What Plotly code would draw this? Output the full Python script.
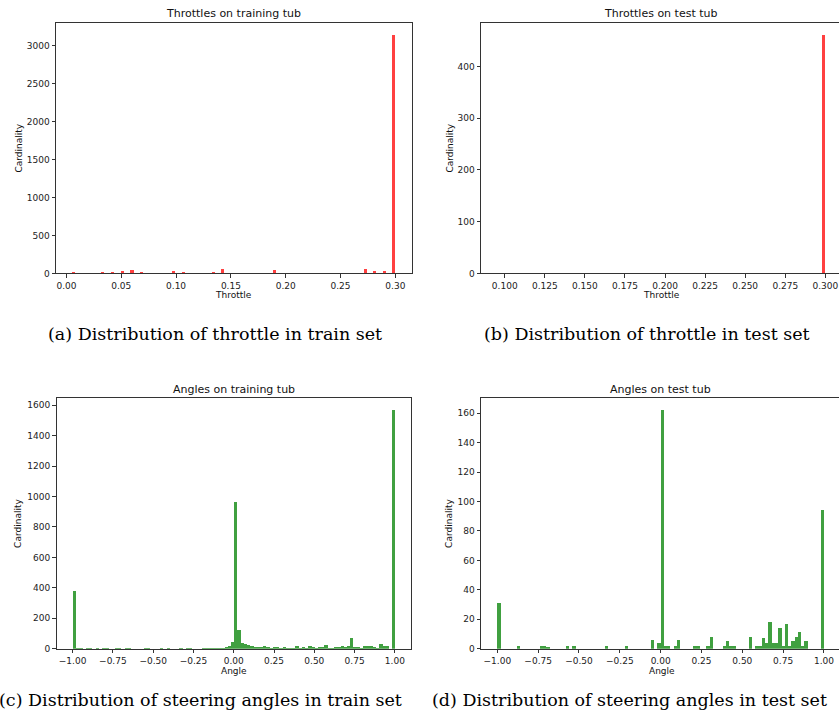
import numpy as np
import plotly.graph_objects as go

# ---------------- data ----------------
# (a) throttle, training tub: bin centres and counts (bin width ~0.00295)
throttle_train_x = [0.0068, 0.0153, 0.0241, 0.0329, 0.0418, 0.0509, 0.0598, 0.0686,
                    0.0774, 0.0887, 0.0978, 0.1070, 0.1161, 0.1250, 0.1338, 0.1426,
                    0.1515, 0.1603, 0.1718, 0.1807, 0.1896, 0.1987, 0.2075, 0.2161,
                    0.2337, 0.2636, 0.2724, 0.2810, 0.2898, 0.2985]
throttle_train_counts = [30, 17, 17, 22, 22, 39, 48, 22, 17, 17, 39, 22, 17, 17, 30, 70,
                         17, 17, 17, 17, 52, 17, 17, 17, 17, 17, 65, 35, 35, 3143]
throttle_train_binwidth = 0.00295

# (b) throttle, test tub
throttle_test_x = [0.0964, 0.2990]
throttle_test_counts = [2, 462]
throttle_test_binwidth = 0.00205

# (c) steering angle, training tub: 100 bins over [-1, 1]
angle_train_counts = [
    378, 3, 2, 0, 3, 3, 0, 6, 0, 3,
    3, 0, 0, 3, 3, 0, 3, 3, 0, 0,
    0, 0, 3, 3, 0, 0, 0, 6, 0, 3,
    0, 0, 0, 3, 0, 3, 3, 0, 0, 0,
    4, 6, 5, 3, 5, 5, 6, 10, 20, 40,
    960, 124, 39, 33, 26, 17, 13, 12, 8, 20,
    8, 6, 12, 12, 6, 10, 5, 6, 6, 16,
    6, 10, 4, 20, 8, 6, 8, 12, 26, 6,
    4, 12, 10, 15, 12, 14, 72, 8, 12, 6,
    20, 18, 15, 8, 6, 30, 18, 18, 0, 1567]

# (d) steering angle, test tub: 100 bins over [-1, 1]
angle_test_counts = [
    31, 0, 0, 0, 0, 0, 2, 0, 0, 0,
    0, 0, 0, 2, 2, 1, 0, 0, 0, 0,
    0, 2, 0, 2, 0, 0, 0, 0, 0, 0,
    0, 0, 0, 2, 0, 0, 0, 0, 0, 2,
    0, 0, 0, 0, 0, 0, 0, 6, 0, 4,
    162, 2, 2, 0, 2, 6, 0, 0, 0, 0,
    2, 2, 0, 0, 2, 8, 0, 0, 0, 2,
    5, 2, 2, 0, 0, 0, 0, 8, 0, 2,
    2, 7, 4, 18, 4, 4, 14, 2, 17, 2,
    5, 8, 11, 2, 5, 0, 0, 0, 0, 94]

angle_edges = np.linspace(-1.0, 1.0, 101)
angle_centers = (angle_edges[:-1] + angle_edges[1:]) / 2
angle_binwidth = 0.02

titles = ["Throttles on training tub", "Throttles on test tub",
          "Angles on training tub", "Angles on test tub"]
captions = ["(a) Distribution of throttle in train set",
            "(b) Distribution of throttle in test set",
            "(c) Distribution of steering angles in train set",
            "(d) Distribution of steering angles in test set"]

RED = "rgba(255,0,0,0.75)"
GREEN = "rgba(0,128,0,0.75)"

# ---------------- figure ----------------
W, H = 839, 727
fig = go.Figure()

def px_x(p):
    return p / W

def px_y(p):
    return 1 - p / H

fig.add_trace(go.Bar(x=throttle_train_x, y=throttle_train_counts, width=throttle_train_binwidth,
                     marker=dict(color=RED, line=dict(width=0)), xaxis="x", yaxis="y"))
fig.add_trace(go.Bar(x=throttle_test_x, y=throttle_test_counts, width=throttle_test_binwidth,
                     marker=dict(color=RED, line=dict(width=0)), xaxis="x2", yaxis="y2"))
fig.add_trace(go.Bar(x=angle_centers, y=angle_train_counts, width=angle_binwidth,
                     marker=dict(color=GREEN, line=dict(width=0)), xaxis="x3", yaxis="y3"))
fig.add_trace(go.Bar(x=angle_centers, y=angle_test_counts, width=angle_binwidth,
                     marker=dict(color=GREEN, line=dict(width=0)), xaxis="x4", yaxis="y4"))

LINE = "#333333"
TICKFONT = dict(family="DejaVu Sans", size=9, color="#222222")

def xax(dom, rng, tickvals, fmt, mirror=True):
    return dict(domain=[px_x(dom[0]), px_x(dom[1])], range=rng, tickmode="array",
                tickvals=tickvals, tickformat=fmt, showline=True, mirror=mirror,
                linecolor=LINE, linewidth=1, ticks="outside", ticklen=3.5, tickwidth=0.8,
                tickcolor=LINE, showgrid=False, zeroline=False, tickfont=TICKFONT,
                fixedrange=True)

def yax(dom, rng, tickvals, anchor, mirror=True):
    return dict(domain=[px_y(dom[1]), px_y(dom[0])], range=rng, tickmode="array",
                tickvals=tickvals, showline=True, mirror=mirror, anchor=anchor,
                linecolor=LINE, linewidth=1, ticks="outside", ticklen=3.5, tickwidth=0.8,
                tickcolor=LINE, showgrid=False, zeroline=False, tickfont=TICKFONT,
                fixedrange=True)

# pixel boxes of the four axes
A = (56, 411.5, 22.7, 275.3)
B = (481, 839, 22.7, 275.3)
C = (56.5, 411, 401, 653.3)
D = (481, 839, 401, 653.3)

fig.update_layout(
    width=W, height=H, margin=dict(l=0, r=0, t=0, b=0),
    paper_bgcolor="white", plot_bgcolor="white", showlegend=False, bargap=0,
    xaxis=xax(A[:2], [-0.0095, 0.3147], [0, 0.05, 0.10, 0.15, 0.20, 0.25, 0.30], ".2f"),
    yaxis=yax(A[2:], [0, 3300], [0, 500, 1000, 1500, 2000, 2500, 3000], "x"),
    xaxis2=dict(xax(B[:2], [0.0852, 0.3085],
                    [0.1, 0.125, 0.15, 0.175, 0.2, 0.225, 0.25, 0.275, 0.3], ".3f"), anchor="y2"),
    yaxis2=yax(B[2:], [0, 485], [0, 100, 200, 300, 400], "x2", mirror=False),
    xaxis3=dict(xax(C[:2], [-1.1, 1.1], [-1, -0.75, -0.5, -0.25, 0, 0.25, 0.5, 0.75, 1], ".2f"),
                anchor="y3"),
    yaxis3=yax(C[2:], [0, 1645], [0, 200, 400, 600, 800, 1000, 1200, 1400, 1600], "x3"),
    xaxis4=dict(xax(D[:2], [-1.1, 1.092], [-1, -0.75, -0.5, -0.25, 0, 0.25, 0.5, 0.75, 1], ".2f"),
                anchor="y4"),
    yaxis4=yax(D[2:], [0, 170.1], [0, 20, 40, 60, 80, 100, 120, 140, 160], "x4", mirror=False),
)
fig.layout.xaxis.anchor = "y"

annotations = []
def ann(text, x, y, size, family="DejaVu Sans", angle=0, color="#111111"):
    annotations.append(dict(text=text, x=px_x(x), y=px_y(y), xref="paper", yref="paper",
                            xanchor="center", yanchor="middle", showarrow=False,
                            textangle=angle, font=dict(family=family, size=size, color=color)))

# titles
ann(titles[0], 233.8, 14, 11)
ann(titles[1], 660.5, 14, 11)
ann(titles[2], 233.8, 392, 11)
ann(titles[3], 660.5, 392, 11)
# axis labels
ann("Throttle", 233.8, 297.5, 9)
ann("Throttle", 661.5, 297.5, 9)
ann("Angle", 233.8, 675.5, 9)
ann("Angle", 661.5, 675.5, 9)
ann("Cardinality", 18.5, 149, 9, angle=-90)
ann("Cardinality", 449.5, 149, 9, angle=-90)
ann("Cardinality", 18.5, 527, 9, angle=-90)
ann("Cardinality", 449.5, 527, 9, angle=-90)
# sub-figure captions
ann(captions[0], 215, 336, 17.5, family="DejaVu Serif", color="#000000")
ann(captions[1], 647, 336, 17.5, family="DejaVu Serif", color="#000000")
ann(captions[2], 200, 705, 17.5, family="DejaVu Serif", color="#000000")
ann(captions[3], 629, 705, 17.5, family="DejaVu Serif", color="#000000")

fig.update_layout(annotations=annotations)
fig.write_html("out.html", config={"displayModeBar": False},
               post_script="document.body.style.margin='0';document.body.style.overflow='hidden';")
